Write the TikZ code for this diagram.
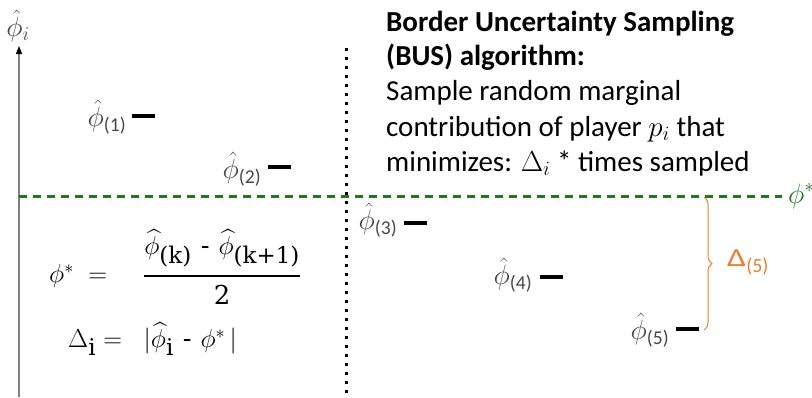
\RequirePackage{fix-cm}
\documentclass[tikz,border=0pt]{standalone}
\usepackage{amsmath}
\usepackage{graphicx}
\usepackage{fontspec}
\setmainfont{Carlito}
\newfontfamily\serif{DejaVu Serif}
\usetikzlibrary{arrows.meta,decorations.pathreplacing}
\definecolor{dgreen}{RGB}{30,120,30}
\definecolor{office}{RGB}{237,125,49}
\definecolor{lbl}{RGB}{70,70,70}
\newcommand{\sub}[1]{\text{\serif\fontsize{23}{23}\selectfont #1}}
\newcommand{\mns}{\text{\serif\hspace{9pt}-\hspace{9pt}}}
\begin{document}
\begin{tikzpicture}[x=1pt,y=-1pt,
  barnode/.style={fill=black, inner sep=0pt, minimum width=23pt, minimum height=4pt},
  est/.style={font=\fontsize{28}{30}\selectfont, text=lbl, inner sep=0pt},
  txt/.style={font=\fontsize{29}{35}\selectfont, inner sep=0pt, anchor=base west},
  btxt/.style={txt, font=\fontsize{29}{35}\selectfont\bfseries},
  eqn/.style={font=\fontsize{26}{30}\selectfont, inner sep=0pt}]
\useasboundingbox (0,0) rectangle (812,397);
% axis
\coordinate (ab) at (19,397);
\coordinate (at) at (19,46);
\draw[gray, line width=1.3pt, -{Triangle[black,length=8pt,width=6pt]}] (ab) -- (at);
\node[est] (al) at (18,26) {$\hat{\phi}_i$};
% dotted divider
\coordinate (dt) at (346,48);
\coordinate (db) at (346,397);
\draw[line width=3pt, dash pattern=on 3pt off 6pt] (dt) -- (db);
% threshold
\coordinate (gl) at (19,196);
\coordinate (gr) at (782,196);
\draw[dgreen, line width=3pt, dash pattern=on 8pt off 6pt] (gl) -- (gr);
\node[font=\fontsize{28}{30}\selectfont, text=dgreen, inner sep=0pt, anchor=west] (ps) at (788,196) {$\phi^*$};
% estimates
\node[est] (e1) at (107,117) {$\hat{\phi}_{\text{(1)}}$};
\node[barnode] (b1) at (143.5,116) {};
\node[est] (e2) at (242,169) {$\hat{\phi}_{\text{(2)}}$};
\node[barnode] (b2) at (279,167) {};
\node[est] (e3) at (378,220) {$\hat{\phi}_{\text{(3)}}$};
\node[barnode] (b3) at (415,223) {};
\node[est] (e4) at (513,275) {$\hat{\phi}_{\text{(4)}}$};
\node[barnode] (b4) at (551.5,277) {};
\node[est] (e5) at (650,330) {$\hat{\phi}_{\text{(5)}}$};
\node[barnode] (b5) at (687,329) {};
% brace
\coordinate (r1) at (704,197);
\coordinate (r2) at (704,330);
\draw[office, line width=1pt, decorate, decoration={brace, amplitude=8pt}] (r1) -- (r2);
\node[text=office, font=\fontsize{26}{28}\selectfont, inner sep=0pt, anchor=west] (dl) at (727,263) {\scalebox{1.3}[1]{Δ}\raisebox{-6pt}{\fontsize{20}{20}\selectfont(5)}};
% equations
\node[eqn, anchor=west] (q1) at (49,267) {$\phi^* \;=\;\;\;\; \genfrac{}{}{2.6pt}{0}{\widehat{\phi}_{\sub{(k)}}\mns\widehat{\phi}_{\sub{(k+1)}}}{\text{\serif 2}}$};
\node[eqn, anchor=west] (q2) at (68,339) {$\Delta_{\sub{i}} = \;\;|\widehat{\phi}_{\sub{i}}\mns\phi^*\,|$};
% text block
\node[btxt] (t1) at (386,31) {Border Uncertainty Sampling};
\node[btxt] (t2) at (386,65) {(BUS) algorithm:};
\node[txt] (t3) at (386,100) {Sample random marginal};
\node[txt] (t4) at (386,136) {contribution of player $p_i$ that};
\node[txt] (t5) at (386,171) {minimizes: $\Delta_i$ * times sampled};
\end{tikzpicture}
\end{document}
